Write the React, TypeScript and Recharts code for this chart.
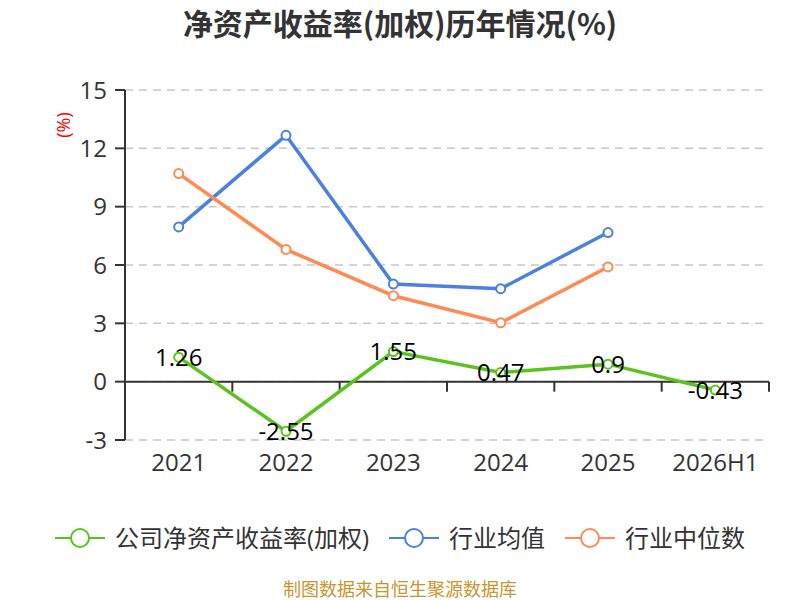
import React from 'react'
import { LineChart, Line, XAxis, YAxis, CartesianGrid, ReferenceLine, LabelList, Legend } from 'recharts'

// Values
const categories = ['2021', '2022', '2023', '2024', '2025', '2026H1']
const companyRoe = [1.26, -2.55, 1.55, 0.47, 0.9, -0.43]
const industryAvg = [7.96, 12.67, 5.02, 4.78, 7.67, null]
const industryMedian = [10.7, 6.8, 4.42, 3.03, 5.9, null]
const yTicks = [-3, 0, 3, 6, 9, 12, 15]
const legendOrder = ['公司净资产收益率(加权)', '行业均值', '行业中位数']

const GREEN = '#5bc31e'
const BLUE = '#4a80e2'
const ORANGE = '#ff8a53'

const data = categories.map((year, i) => ({
  year,
  company: companyRoe[i],
  avg: industryAvg[i],
  median: industryMedian[i],
}))

const FONT = "'Open Sans', 'Noto Sans CJK SC', sans-serif"

function ZeroAxisTicks(props: any) {
  const vb = props.viewBox ?? {}
  const x0 = vb.x ?? 0
  const y0 = vb.y ?? 0
  const w = vb.width ?? 0
  const n = categories.length
  return (
    <g>
      {categories.map((c, i) => {
        const x = x0 + (w * (i + 1)) / n
        return <line key={c} x1={x} x2={x} y1={y0} y2={y0 + 10} stroke="#333" strokeWidth={2} />
      })}
    </g>
  )
}

function UnitLabel(props: any) {
  const vb = props.viewBox ?? {}
  const x = (vb.x ?? 0) + 63
  const y = (vb.y ?? 0) + 35
  return (
    <text x={x} y={y} fill="#ff0000" fontSize={18} textAnchor="middle" dominantBaseline="central"
      transform={`rotate(-90 ${x} ${y})`}>
      (%)
    </text>
  )
}

function LegendContent(props: any) {
  const items = [...(props.payload ?? [])].sort(
    (a: any, b: any) => legendOrder.indexOf(a.value) - legendOrder.indexOf(b.value))
  return (
    <div style={{ display: 'flex', justifyContent: 'center', alignItems: 'center', height: 40, gap: 20 }}>
      {items.map((item: any) => (
        <div key={item.value} style={{ display: 'flex', alignItems: 'center', gap: 10 }}>
          <svg width={50} height={24}>
            <line x1={0} x2={50} y1={12} y2={12} stroke={item.color} strokeWidth={2} />
            <circle cx={25} cy={12} r={9} fill="#fff" stroke={item.color} strokeWidth={2} />
          </svg>
          <span style={{ fontSize: 24, color: '#333', lineHeight: '24px' }}>{item.value}</span>
        </div>
      ))}
    </div>
  )
}

export default function App() {
  return (
    <div style={{ position: 'relative', width: 800, height: 600, fontFamily: FONT, background: '#fff' }}>
      <style>{'body{margin:0}'}</style>
      <div style={{
        position: 'absolute', top: 7, left: 0, width: 800, textAlign: 'center',
        fontSize: 30, lineHeight: '30px', fontWeight: 700, color: '#333',
        fontFamily: "'Noto Sans CJK SC', sans-serif", zIndex: 2,
      }}>
        净资产收益率(加权)历年情况(%)
      </div>
      <LineChart width={800} height={600} data={data} margin={{ top: 90, right: 31, left: 0, bottom: 42 }}>
        <CartesianGrid vertical={false} stroke="#c8c8c8" strokeDasharray="8 6" strokeWidth={1.5} />
        <XAxis dataKey="year" scale="band" axisLine={false} tickLine={false} tickMargin={8} height={78}
          tick={{ fontSize: 24, fill: '#333' }} interval={0} />
        <YAxis domain={[-3, 15]} ticks={yTicks} width={125} tickSize={10} tickMargin={8}
          axisLine={{ stroke: '#333', strokeWidth: 2 }} tickLine={{ stroke: '#333', strokeWidth: 2 }}
          tick={{ fontSize: 24, fill: '#333' }} label={{ content: <UnitLabel /> }} />
        <ReferenceLine y={0} stroke="#333" strokeWidth={2} label={{ content: <ZeroAxisTicks /> }} />
        <Line dataKey="company" name="公司净资产收益率(加权)" stroke={GREEN} strokeWidth={3.5}
          dot={{ r: 4.5, fill: '#fff', stroke: GREEN, strokeWidth: 2 }} activeDot={false} isAnimationActive={false}>
          <LabelList dataKey="company" position="center" fill="#000" fontSize={24} />
        </Line>
        <Line dataKey="avg" name="行业均值" stroke={BLUE} strokeWidth={3.5}
          dot={{ r: 4.5, fill: '#fff', stroke: BLUE, strokeWidth: 2 }} activeDot={false} isAnimationActive={false} />
        <Line dataKey="median" name="行业中位数" stroke={ORANGE} strokeWidth={3.5}
          dot={{ r: 4.5, fill: '#fff', stroke: ORANGE, strokeWidth: 2 }} activeDot={false} isAnimationActive={false} />
        <Legend verticalAlign="bottom" content={<LegendContent />} wrapperStyle={{ left: 0, width: 800 }} />
      </LineChart>
      <div style={{
        position: 'absolute', top: 580, left: 0, width: 800, textAlign: 'center',
        fontSize: 18, lineHeight: '18px', color: '#c9952f',
      }}>
        制图数据来自恒生聚源数据库
      </div>
    </div>
  )
}
